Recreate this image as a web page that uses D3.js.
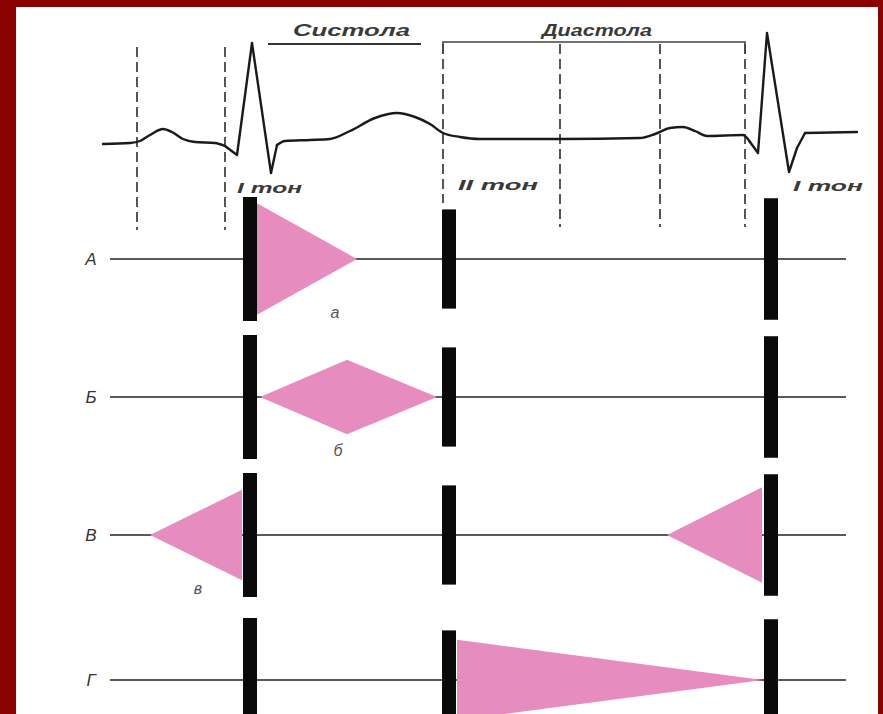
<!DOCTYPE html>
<html><head><meta charset="utf-8">
<script src="https://cdn.jsdelivr.net/npm/d3@7/dist/d3.min.js"></script>
<style>html,body{margin:0;padding:0;background:#8b0000;}svg{display:block;}</style>
</head><body>
<script>
// ---- data ----
// ECG trace: [time units, amplitude]
const ecgTime = [3,30,40,50,63,72,83,95,115,125,137,152,171,177,185,210,230,250,275,297,315,330,343,360,380,460,540,555,570,583,595,607,643,650,658,667,689,697,705,757];
const ecgAmp  = [-0.03,-0.02,0,0.06,0.12,0.09,0.02,-0.01,-0.02,-0.05,-0.14,0.98,-0.32,-0.04,0,0.01,0.02,0.10,0.23,0.28,0.24,0.17,0.08,0.04,0.02,0.02,0.03,0.07,0.13,0.14,0.10,0.05,0.06,-0.01,-0.12,1.08,-0.31,-0.07,0.08,0.09];
// QRS complexes drawn with sharp corners: [first index, last index]
const ecgSharp = [[9,13],[33,38]];
// phase boundaries (dashed lines)
const phaseTimes = [37,125,343,460,560,645];
// heart sounds
const toneTimes = [150,349,671];
const toneAmp   = [1.0,0.8,0.98];
const toneLabels = ["I тон","II тон","I тон"];
const toneLabelTimes = [137,358,693];
// rows
const rows = ["А","Б","В","Г"];
// murmurs: row, list of [time, amplitude]
const murmurRows = ["А","Б","В","В","Г"];
const murmurShapes = [
  [[157,0.9],[257,0]],
  [[160,0],[247,0.6],[337,0]],
  [[50,0],[142,0.73]],
  [[567,0],[662,0.77]],
  [[357,0.65],[663,0]]
];
const murmurLabels = ["а","б","в"];
const murmurLabelRows = ["А","Б","В"];
const murmurLabelTimes = [235,238,98];
const phaseNames = ["Систола","Диастола"];
const phaseSpans = [[168,321],[343,645]];

// ---- layout ----
const W = 883, H = 714;
const svg = d3.select("body").append("svg").attr("width",W).attr("height",H);
svg.append("rect").attr("width",W).attr("height",H).attr("fill","#8b0000");
svg.append("rect").attr("x",16).attr("y",7).attr("width",862).attr("height",H-7).attr("fill","#ffffff");

const x = d3.scaleLinear().domain([0,760]).range([100,860]);
const yE = d3.scaleLinear().domain([0,1]).range([141,41]);
const rowY = d3.scaleOrdinal().domain(rows).range([259,397,535,680]);
const half = d3.scaleLinear().domain([0,1]).range([0,62]);
const font = "'Liberation Sans', Arial, sans-serif";

// dashed phase lines
const dashTop = [47,47,44,44,44,44];
const dashBot = [230,230,203,227,227,227];
svg.append("g").selectAll("line").data(phaseTimes).join("line")
  .attr("x1",d=>x(d)).attr("x2",d=>x(d))
  .attr("y1",(d,i)=>dashTop[i]).attr("y2",(d,i)=>dashBot[i])
  .attr("stroke","#555").attr("stroke-width",2).attr("stroke-dasharray","10,5");

// phase brackets
svg.append("line").attr("x1",x(phaseSpans[0][0])).attr("x2",x(phaseSpans[0][1]))
  .attr("y1",44).attr("y2",44).attr("stroke","#333").attr("stroke-width",2);
svg.append("path")
  .attr("d",`M${x(phaseSpans[1][0])},54V42H${x(phaseSpans[1][1])}V54`)
  .attr("fill","none").attr("stroke","#444").attr("stroke-width",1.6);
const phaseTextX = [[293,410],[542,652]];
svg.append("g").selectAll("text").data(phaseNames).join("text")
  .attr("x",(d,i)=>phaseTextX[i][0]).attr("y",36)
  .attr("textLength",(d,i)=>phaseTextX[i][1]-phaseTextX[i][0]).attr("lengthAdjust","spacingAndGlyphs")
  .attr("font-family",font).attr("font-style","italic").attr("font-weight","bold")
  .attr("font-size",17).attr("fill","#3a3a3a").text(d=>d);

// ECG: smooth segments with sharp QRS complexes
const ecg = ecgTime.map((t,i)=>[t,ecgAmp[i]]);
const segs = [];
let start = 0;
ecgSharp.forEach(([a,b])=>{
  segs.push({pts:ecg.slice(start,a+1),curve:d3.curveMonotoneX});
  segs.push({pts:ecg.slice(a,b+1),curve:d3.curveLinear});
  start = b;
});
segs.push({pts:ecg.slice(start),curve:d3.curveMonotoneX});
svg.append("g").selectAll("path").data(segs).join("path")
  .attr("d",s=>d3.line().x(d=>x(d[0])).y(d=>yE(d[1])).curve(s.curve)(s.pts))
  .attr("fill","none").attr("stroke","#1a1a1a").attr("stroke-width",2.4)
  .attr("stroke-linejoin","round").attr("stroke-linecap","round");

// tone labels
const toneLabelW = [65,80,70];
const toneLabelY = [193,190,191];
svg.append("g").selectAll("text").data(toneLabels).join("text")
  .attr("x",(d,i)=>x(toneLabelTimes[i])).attr("y",(d,i)=>toneLabelY[i])
  .attr("textLength",(d,i)=>toneLabelW[i]).attr("lengthAdjust","spacingAndGlyphs")
  .attr("font-family",font).attr("font-style","italic").attr("font-weight","bold")
  .attr("font-size",14).attr("fill","#3a3a3a").text(d=>d);

// row baselines
const g = svg.append("g");
g.selectAll("line.base").data(rows).join("line").attr("class","base")
  .attr("x1",x(10)).attr("x2",x(746))
  .attr("y1",d=>rowY(d)).attr("y2",d=>rowY(d))
  .attr("stroke","#222").attr("stroke-width",1.6);
g.selectAll("text.row").data(rows).join("text").attr("class","row")
  .attr("x",91).attr("y",d=>rowY(d)+6).attr("text-anchor","middle")
  .attr("font-family",font).attr("font-style","italic")
  .attr("font-size",17).attr("fill","#333").text(d=>d);

// murmurs
const area = d3.area().x(d=>x(d[0]));
g.selectAll("path.murmur").data(murmurShapes).join("path").attr("class","murmur")
  .attr("d",(d,i)=>{
    const cy = rowY(murmurRows[i]);
    return area.y0(p=>cy-half(p[1])).y1(p=>cy+half(p[1]))(d);
  })
  .attr("fill","#e68cbf");
g.selectAll("text.ml").data(murmurLabels).join("text").attr("class","ml")
  .attr("x",(d,i)=>x(murmurLabelTimes[i])).attr("y",(d,i)=>rowY(murmurLabelRows[i])+59)
  .attr("text-anchor","middle")
  .attr("font-family",font).attr("font-style","italic")
  .attr("font-size",16).attr("fill","#555").text(d=>d);

// tone bars
const bars = [];
rows.forEach(r=>toneTimes.forEach((t,i)=>bars.push({r,t,a:toneAmp[i]})));
g.selectAll("rect.tone").data(bars).join("rect").attr("class","tone")
  .attr("x",d=>x(d.t)-7).attr("width",14)
  .attr("y",d=>rowY(d.r)-half(d.a)).attr("height",d=>2*half(d.a))
  .attr("fill","#0a0a0a");
</script>
</body></html>
